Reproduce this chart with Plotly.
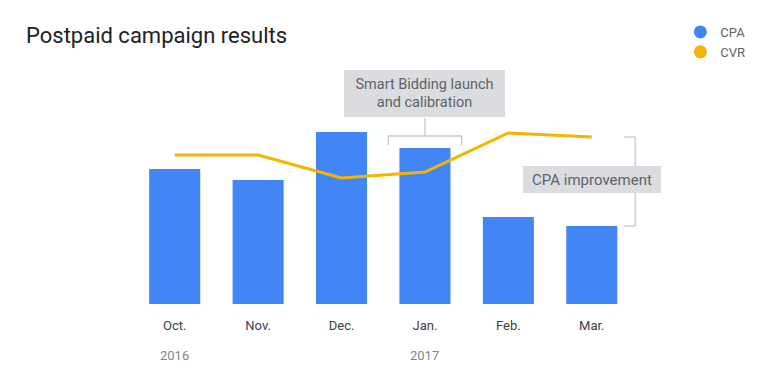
import plotly.graph_objects as go

months = ["Oct.", "Nov.", "Dec.", "Jan.", "Feb.", "Mar."]
cpa = [135, 124, 172, 156, 87, 78]
cvr = [149, 149, 126, 132, 171, 167]
years = [("2016", 0), ("2017", 3)]

BLUE = "#4285f4"
YEL = "#f4b400"
GREY_TXT = "#5f6368"
BOX = "#dadce0"
BRK = "#c6c8cb"

xi = list(range(len(months)))

fig = go.Figure()
fig.add_trace(go.Bar(x=xi, y=cpa, marker=dict(color=BLUE, line=dict(width=0)),
                     showlegend=False, hoverinfo="skip"))
fig.add_trace(go.Scatter(x=xi, y=cvr, mode="lines", line=dict(color=YEL, width=3),
                         showlegend=False, hoverinfo="skip"))
# legend entries
fig.add_trace(go.Scatter(x=[None], y=[None], mode="markers", name="CPA",
                         marker=dict(color=BLUE, size=13, symbol="circle")))
fig.add_trace(go.Scatter(x=[None], y=[None], mode="markers", name="CVR",
                         marker=dict(color=YEL, size=13, symbol="circle")))

shapes = []
# Smart bidding bracket
shapes.append(dict(type="line", xref="x", yref="y", x0=3, x1=3, y0=186, y1=168,
                   line=dict(color=BRK, width=1.3)))
shapes.append(dict(type="line", xref="x", yref="y", x0=2.56, x1=3.44, y0=168, y1=168,
                   line=dict(color=BRK, width=1.3)))
shapes.append(dict(type="line", xref="x", yref="y", x0=2.56, x1=2.56, y0=168, y1=159,
                   line=dict(color=BRK, width=1.3)))
shapes.append(dict(type="line", xref="x", yref="y", x0=3.44, x1=3.44, y0=168, y1=159,
                   line=dict(color=BRK, width=1.3)))
# CPA improvement bracket
mar_i = 5
shapes.append(dict(type="line", xref="x", yref="y", x0=mar_i + 0.52, x1=mar_i + 0.52,
                   y0=cvr[mar_i], y1=cpa[mar_i], line=dict(color=BRK, width=1.3)))
shapes.append(dict(type="line", xref="x", yref="y", x0=mar_i + 0.39, x1=mar_i + 0.52,
                   y0=cvr[mar_i], y1=cvr[mar_i], line=dict(color=BRK, width=1.3)))
shapes.append(dict(type="line", xref="x", yref="y", x0=mar_i + 0.39, x1=mar_i + 0.52,
                   y0=cpa[mar_i], y1=cpa[mar_i], line=dict(color=BRK, width=1.3)))

annotations = [
    dict(x=3, y=210.5, xref="x", yref="y", text="Smart Bidding launch<br>and calibration",
         showarrow=False, bgcolor=BOX, width=161, height=47, borderpad=0, borderwidth=0,
         font=dict(family="Roboto", size=14.5, color=GREY_TXT), align="center"),
    dict(x=5, y=124.5, xref="x", yref="y", text="CPA improvement",
         showarrow=False, bgcolor=BOX, width=138, height=27, borderpad=0, borderwidth=0,
         font=dict(family="Roboto", size=15, color=GREY_TXT), align="center"),
]
for label, idx in years:
    annotations.append(dict(x=idx, y=-0.2125, xref="x", yref="paper", text=label,
                            showarrow=False, yanchor="middle",
                            font=dict(family="Roboto", size=13, color="#80868b")))

fig.update_layout(
    width=768, height=384,
    margin=dict(l=133, r=122, t=64, b=80),
    paper_bgcolor="white", plot_bgcolor="white",
    bargap=0.388,
    title=dict(text="Postpaid campaign results", x=26 / 768, xref="container", xanchor="left",
               y=1 - 35 / 384, yref="container", yanchor="middle",
               font=dict(family="Roboto", size=22, color="#202124")),
    xaxis=dict(range=[-0.5, 5.65], tickvals=xi, ticktext=months, showgrid=False,
               zeroline=False, showline=False, ticks="", ticklabelstandoff=12,
               tickfont=dict(family="Roboto", size=13, color="#3c4043")),
    yaxis=dict(range=[0, 240], visible=False, showgrid=False, zeroline=False),
    legend=dict(x=1.067, y=1.196, xanchor="left", yanchor="top",
                font=dict(family="Roboto", size=13, color=GREY_TXT),
                bgcolor="rgba(0,0,0,0)", itemsizing="trace"),
    shapes=shapes, annotations=annotations,
    hovermode=False,
)
fig.write_html("out.html", config={"displayModeBar": False},
               post_script="document.body.style.margin='0';")
